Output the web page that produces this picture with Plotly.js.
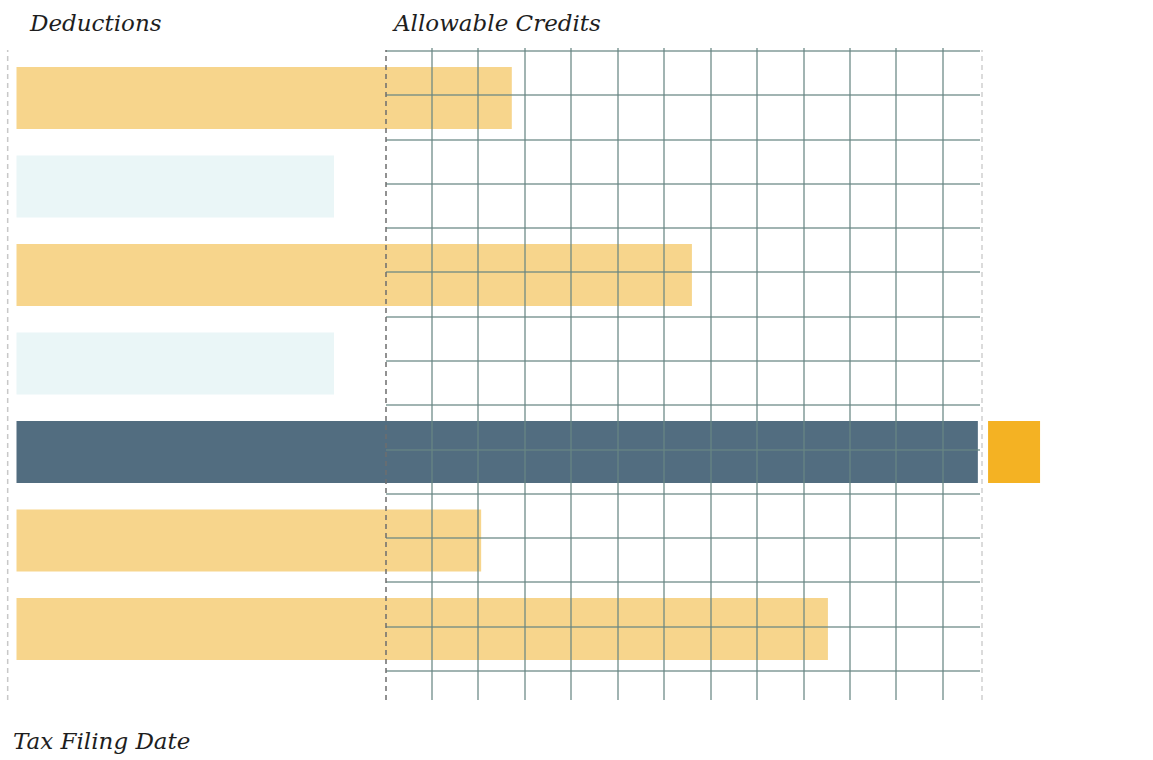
<!DOCTYPE html>
<html>
<head>
<meta charset="utf-8">
<script src="https://cdn.plot.ly/plotly-3.0.1.min.js"></script>
<style>html,body{margin:0;padding:0;background:#fff;}#chart{width:1153px;height:760px;}</style>
</head>
<body>
<div id="chart"></div>
<script>
// ---- data ----
var rows = [1, 2, 3, 4, 5, 6, 7];
var barValues = [10.67, 6.84, 14.55, 6.84, 20.71, 10.01, 17.48];
var barKinds = ["deduction", "empty", "deduction", "empty", "total", "deduction", "deduction"];
var markerRow = [5];
var markerStart = [20.93];
var markerLength = [1.12];
var titles = ["Deductions", "Allowable Credits", "Tax Filing Date"];

// ---- styles ----
var kindColors = {deduction: "#F7D58C", empty: "#EAF6F7", total: "#526D80"};
var W = 1153, H = 760;
var titleFont = {family: "DejaVu Serif, serif", size: 23, color: "#1e1e1e", style: "italic"};

var barTrace = {
  type: "bar", orientation: "h",
  y: rows, x: barValues, base: 0,
  width: 0.70,
  marker: {color: barKinds.map(function(k){return kindColors[k];}), line: {width: 0}},
  xaxis: "x", yaxis: "y", hoverinfo: "skip", showlegend: false
};
var markerTrace = {
  type: "bar", orientation: "h",
  y: markerRow, x: markerLength, base: markerStart,
  width: 0.70,
  marker: {color: "#F4B223", line: {width: 0}},
  xaxis: "x", yaxis: "y", hoverinfo: "skip", showlegend: false
};
// invisible trace to activate the grid subplot
var gridTrace = {
  type: "scatter", mode: "markers", x: [10], y: [1],
  marker: {opacity: 0}, xaxis: "x2", yaxis: "y2", hoverinfo: "skip", showlegend: false
};

var pxPerX = 46.42, x0px = 16.5;
var pxPerRow = 88.5, row0px = 98 - pxPerRow;
var gridTop = 48, gridBottom = 700, gridLeft = 386, gridRight = 980;
var gridYUnit = 44.29, gridY0 = 51;
var lineTop = 50;

var hidden = {showgrid: false, zeroline: false, showticklabels: false, ticks: "", showline: false, fixedrange: true};

var layout = {
  width: W, height: H,
  margin: {l: 0, r: 0, t: 0, b: 0, pad: 0},
  paper_bgcolor: "#ffffff", plot_bgcolor: "rgba(0,0,0,0)",
  barmode: "overlay",
  showlegend: false,
  xaxis: Object.assign({}, hidden, {domain: [0, 1], range: [-x0px / pxPerX, (W - x0px) / pxPerX]}),
  yaxis: Object.assign({}, hidden, {domain: [0, 1], range: [(H - row0px) / pxPerRow, -row0px / pxPerRow]}),
  xaxis2: Object.assign({}, hidden, {
    anchor: "y2", domain: [gridLeft / W, gridRight / W],
    range: [8.02, 8 + (gridRight - gridLeft) / pxPerX],
    showgrid: true, gridcolor: "rgba(104,134,130,0.62)", gridwidth: 2, dtick: 1, tick0: 0
  }),
  yaxis2: Object.assign({}, hidden, {
    anchor: "x2", domain: [(H - gridBottom) / H, (H - gridTop) / H],
    range: [(gridBottom - gridY0) / gridYUnit, (gridTop - gridY0) / gridYUnit],
    showgrid: true, gridcolor: "rgba(104,134,130,0.62)", gridwidth: 2, dtick: 1, tick0: 0
  }),
  shapes: [
    {type: "line", xref: "x", yref: "paper", x0: -0.19, x1: -0.19, y0: (H - gridBottom) / H, y1: (H - lineTop) / H,
     line: {color: "#c8c8c8", width: 1.5, dash: "5px,4px"}, layer: "above"},
    {type: "line", xref: "x", yref: "paper", x0: (gridLeft - x0px) / pxPerX, x1: (gridLeft - x0px) / pxPerX, y0: (H - gridBottom) / H, y1: (H - lineTop) / H,
     line: {color: "#6e6e6e", width: 1.5, dash: "5px,4px"}, layer: "above"},
    {type: "line", xref: "x", yref: "paper", x0: (982 - x0px) / pxPerX, x1: (982 - x0px) / pxPerX, y0: (H - gridBottom) / H, y1: (H - lineTop) / H,
     line: {color: "#cfcfcf", width: 1.5, dash: "5px,4px"}, layer: "above"}
  ],
  annotations: [
    {text: titles[0], xref: "paper", yref: "paper", x: 27 / W, y: 1 - 23 / H, xanchor: "left", yanchor: "middle", showarrow: false, font: titleFont},
    {text: titles[1], xref: "paper", yref: "paper", x: 390 / W, y: 1 - 23 / H, xanchor: "left", yanchor: "middle", showarrow: false, font: titleFont},
    {text: titles[2], xref: "paper", yref: "paper", x: 11 / W, y: 1 - 741 / H, xanchor: "left", yanchor: "middle", showarrow: false, font: titleFont}
  ]
};

Plotly.newPlot("chart", [barTrace, markerTrace, gridTrace], layout, {displayModeBar: false, staticPlot: true});
</script>
</body>
</html>
